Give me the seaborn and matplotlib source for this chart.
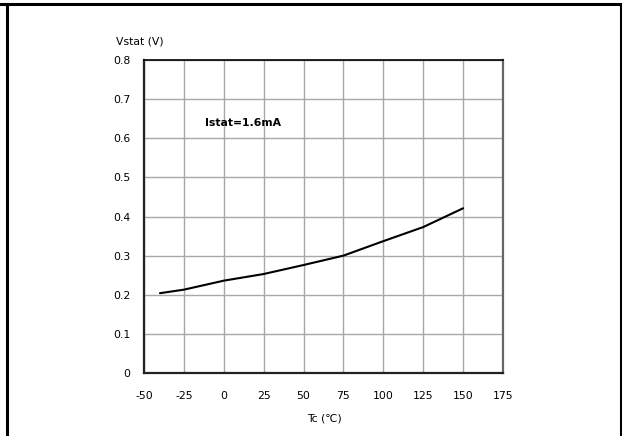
import numpy as np
import pandas as pd
import seaborn as sns
import matplotlib.pyplot as plt
from matplotlib.lines import Line2D

# values
tc = [-40, -25, 0, 25, 50, 75, 100, 125, 150]
vstat = [0.204, 0.213, 0.236, 0.253, 0.276, 0.300, 0.337, 0.373, 0.421]
x_ticks = [-50, -25, 0, 25, 50, 75, 100, 125, 150, 175]
y_ticks = [0, 0.1, 0.2, 0.3, 0.4, 0.5, 0.6, 0.7, 0.8]
y_labels = ["0", "0.1", "0.2", "0.3", "0.4", "0.5", "0.6", "0.7", "0.8"]

df = pd.DataFrame({"tc": tc, "vstat": vstat})

sns.set_style("white")
plt.rcParams['font.family'] = ['DejaVu Sans']
plt.rcParams['text.color'] = 'black'
plt.rcParams['xtick.color'] = 'black'
plt.rcParams['ytick.color'] = 'black'

fig = plt.figure(figsize=(6.22, 4.36), dpi=100)
ax = fig.add_axes([144 / 622, 1 - 373 / 436, (503 - 144) / 622, (373 - 60) / 436])

sns.lineplot(data=df, x="tc", y="vstat", color="black", linewidth=1.5, ax=ax)

ax.set_xlim(-50, 175)
ax.set_ylim(0, 0.8)
ax.set_xticks(x_ticks)
ax.set_xticklabels([str(t) for t in x_ticks], fontsize=7.8)
ax.set_yticks(y_ticks)
ax.set_yticklabels(y_labels, fontsize=7.8)
ax.tick_params(axis="x", length=0, pad=13)
ax.tick_params(axis="y", length=0, pad=10)
ax.grid(True, color="#a8a8a8", linewidth=1)
ax.set_axisbelow(True)
ax.set_xlabel("")
ax.set_ylabel("")

for side in ["left", "bottom"]:
    ax.spines[side].set_color("#222222")
    ax.spines[side].set_linewidth(1.6)
ax.spines["top"].set_color("black")
ax.spines["top"].set_linewidth(1.2)
ax.spines["right"].set_color("#666666")
ax.spines["right"].set_linewidth(1.6)

fig.text(116 / 622, 1 - 41 / 436, "Vstat (V)", fontsize=7.8, ha="left", va="center")
fig.text(324 / 622, 1 - 418 / 436, "Tc (\u2103)", fontsize=7.8, ha="center", va="center")
ax.text(-11.5, 0.64, "Istat=1.6mA", fontsize=7.8, fontweight="bold", ha="left", va="center")

# outer frame of the datasheet figure
fig.add_artist(Line2D([0, 621 / 622], [1 - 4.5 / 436, 1 - 4.5 / 436], color="black", linewidth=2.2))
fig.add_artist(Line2D([6.5 / 622, 6.5 / 622], [0, 1 - 4.5 / 436], color="black", linewidth=2.2))
fig.add_artist(Line2D([620.5 / 622, 620.5 / 622], [0, 1 - 4.5 / 436], color="black", linewidth=2.2))

fig.savefig("out.png", dpi=100)
